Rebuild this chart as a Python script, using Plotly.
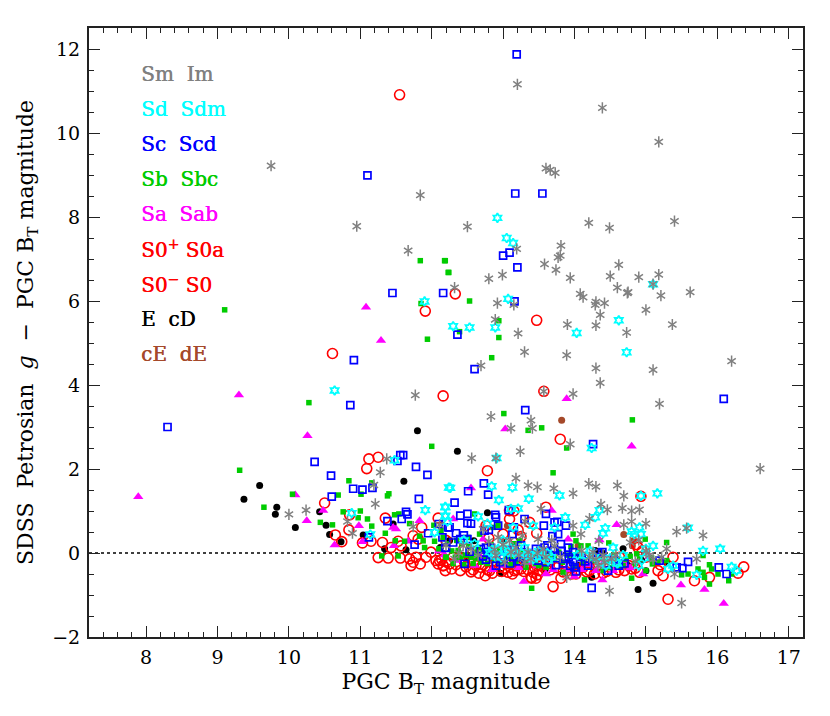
import plotly.graph_objects as go

# type groups: x = PGC BT, y = g - BT
cE_x = [13.82, 14.69, 14.05, 13.06, 14.81, 14.82]
cE_y = [3.16, 0.44, 0.17, 0.65, 0.17, 0.29]

E_x = [9.37, 9.59, 9.83, 9.81, 10.09, 10.43, 10.52, 10.57, 10.73, 11.80, 11.61, 11.04, 11.46, 11.34, 11.64, 12.12,
       12.36, 12.78, 12.59, 14.89, 15.10, 14.68, 14.94, 15.00, 14.39, 14.29, 12.96, 13.59, 14.24, 15.29,
       12.25, 12.50, 13.00, 14.05, 14.75]
E_y = [1.28, 1.61, 1.09, 0.92, 0.61, 0.98, 0.66, 0.44, 0.27, 2.91, 1.71, 0.43, 0.69, 0.10, 0.08, 0.13,
       2.42, 0.96, 0.29, -0.87, -0.72, 0.10, -0.17, -0.42, 0.00, 0.06, -0.48, -0.38, -0.58, -0.22,
       0.30, -0.10, 0.30, -0.30, -0.30]

S0_x = [11.55, 11.91, 12.33, 13.47, 10.61, 12.16, 13.57, 13.80, 12.78, 14.93, 11.12, 11.25, 11.09, 10.50, 10.85,
        10.84, 10.65, 10.74, 11.03, 11.15, 11.35, 11.31, 11.53, 11.57, 11.25, 11.39, 11.43, 11.56, 11.74, 11.81,
        11.86, 11.69, 11.74, 11.71, 11.84, 11.92, 11.99, 12.06, 12.09, 12.16, 12.19, 11.78, 12.09, 12.11, 12.16,
        12.55, 12.69, 12.75, 12.81, 12.62, 13.07, 13.16, 13.25, 13.39, 13.46, 13.51, 13.70, 13.81, 13.37, 13.47,
        13.25, 13.09, 13.09, 12.76, 13.60, 15.31, 15.38, 15.17, 15.24, 15.68, 15.89, 16.29, 16.37, 14.91, 14.89,
        14.63, 14.58, 14.30, 12.30, 12.86, 12.95, 13.04, 13.18, 13.32, 13.44, 13.56, 13.95, 14.12, 14.21, 14.49,
        14.70, 12.25, 12.46, 13.66, 13.88, 14.02, 14.40, 14.80, 15.20]
S0_y = [10.91, 5.76, 6.17, 5.54, 4.75, 3.74, 3.85, 2.71, 1.96, 1.35, 2.24, 2.28, 2.01, 1.19, 0.91,
        0.55, 0.43, 0.27, 0.24, 0.28, 0.83, 0.25, 0.28, 0.17, -0.11, -0.12, 0.13, -0.12, 0.41, 0.33,
        0.61, -0.14, -0.22, -0.30, -0.26, -0.10, 0.02, -0.18, -0.26, -0.30, -0.42, -0.10, 0.83, -0.18, -0.30,
        -0.45, -0.34, -0.54, -0.42, -0.30, -0.46, -0.42, -0.38, -0.58, -0.60, -0.42, -0.80, -0.60, 0.73, 0.47,
        0.39, 1.01, 0.81, 0.65, 1.09, -1.10, -0.10, -0.42, -0.54, -0.66, -0.58, -0.48, -0.33, -0.46, 0.13,
        -0.10, -0.46, -0.34, -0.10, -0.26, -0.34, -0.26, -0.30, -0.26, -0.34, -0.26, -0.34, -0.34, -0.42, -0.34,
        -0.42, -0.26, -0.22, -0.40, -0.44, -0.50, -0.48, -0.38, -0.28]
# the dense band under the zero line
S0_x += [12.14, 12.21, 12.28, 12.34, 12.40, 12.48, 12.52, 12.58, 12.66, 12.72, 12.78, 12.85, 12.90, 12.98, 13.02,
         13.10, 13.13, 13.20, 13.23, 13.29, 13.35, 13.42, 13.40, 13.48, 13.53, 13.60, 13.65, 13.75, 13.84, 13.90,
         13.96, 14.05, 14.10, 14.17, 14.28, 14.34, 14.45, 14.55, 14.62, 14.76, 14.85, 13.00, 13.21, 12.80, 13.15,
         13.05, 12.45, 12.20, 14.95, 14.87, 15.00]
S0_y += [-0.15, -0.22, -0.38, -0.28, -0.42, -0.33, -0.20, -0.40, -0.48, -0.28, -0.40, -0.48, -0.20, -0.44, -0.36,
         -0.34, -0.50, -0.40, -0.25, -0.44, -0.40, -0.46, -0.60, -0.52, -0.30, -0.38, -0.25, -0.35, -0.45, -0.30,
         -0.50, -0.40, -0.20, -0.45, -0.50, -0.28, -0.44, -0.30, -0.40, -0.30, -0.36, 0.45, 0.55, 0.35, 1.00,
         0.25, 0.10, 0.30, 0.05, 0.20, -0.10]

Sa_x = [11.08, 11.29, 7.89, 9.30, 10.26, 10.09, 10.25, 10.48, 10.64, 10.98, 11.03, 11.46, 11.50, 11.83, 11.67,
        11.47, 12.10, 13.89, 13.03, 14.80, 12.55, 13.68, 14.59, 14.35, 15.49, 15.82, 16.09, 13.29, 13.60, 14.00,
        14.39, 14.96, 15.05, 12.72, 12.30, 13.91, 14.70, 14.54, 14.30, 12.69, 13.35,
        12.18, 12.35, 12.60, 12.85, 13.00, 13.22, 13.48, 13.70, 13.88, 14.10, 14.20, 14.38, 14.64, 14.78, 14.88]
Sa_y = [5.85, 5.06, 1.34, 3.76, 2.79, 1.38, 0.77, 1.01, 0.19, 0.65, 0.27, 0.61, 0.57, 0.77, 0.28,
        0.17, 0.05, 3.67, 2.95, 2.54, 1.55, 1.01, 0.67, 0.31, -0.76, -0.87, -1.20, -0.68, -0.50, -0.56,
        -0.64, -0.50, -0.09, 0.33, 0.81, 0.33, -0.26, -0.42, -0.42, -0.10, -0.22,
        -0.05, -0.18, -0.30, -0.40, -0.30, -0.35, -0.30, -0.40, -0.40, -0.40, -0.28, -0.30, -0.34, -0.36, -0.22]

Sb_x = [12.18, 12.24, 12.53, 12.94, 12.39, 12.94, 12.84, 9.10, 11.84, 12.19, 12.23, 11.94, 11.85, 10.28, 9.31,
        9.65, 10.05, 12.00, 10.84, 11.16, 11.01, 10.69, 11.38, 11.40, 10.76, 11.00, 10.97, 11.10, 11.16, 10.44,
        10.61, 11.35, 11.48, 11.54, 11.69, 11.49, 11.62, 11.30, 11.53, 11.83, 11.88, 11.90, 12.03, 12.13, 12.04,
        12.20, 13.01, 14.81, 13.54, 13.35, 13.89, 13.70, 12.93, 12.60, 12.20, 12.30, 12.37, 12.51, 12.55, 12.65,
        12.67, 12.86, 12.97, 13.02, 13.18, 13.23, 13.40, 13.60, 13.72, 13.84, 13.98, 14.02, 14.09, 14.19, 14.14,
        14.07, 14.48, 13.98, 14.80, 14.99, 15.29, 15.09, 14.87, 14.91, 15.00, 15.29, 15.50, 15.59, 15.73, 15.80,
        15.82, 15.80, 15.89, 15.92, 15.89, 16.01, 16.16, 16.20, 15.17, 14.63, 14.40, 12.16, 12.81, 12.69, 12.41,
        13.32, 13.46]
Sb_y = [6.96, 6.68, 6.00, 5.53, 5.27, 5.13, 4.65, 5.79, 6.96, 6.96, 6.68, 5.09, 5.94, 3.58, 1.97,
        1.09, 1.40, 2.54, 1.72, 1.67, 1.40, 1.38, 1.36, 1.41, 0.98, 1.00, 0.84, 0.81, 0.64, 0.73,
        0.67, 0.47, 0.91, 0.93, 0.70, 0.29, 0.28, -0.07, -0.07, 0.40, 0.29, 0.13, 0.66, 0.53, 0.28,
        -0.10, 3.32, 3.17, 2.98, 2.92, 2.50, 1.91, 0.65, 0.93, -0.10, -0.25, 0.06, 0.37, -0.10, 0.13,
        0.45, 0.61, -0.22, 0.13, -0.22, 0.29, -0.84, -0.34, -0.14, -0.46, 0.45, 0.29, 0.17, 0.17, -0.64,
        -0.10, 0.24, -0.06, -0.60, 0.33, 0.25, -0.26, -0.02, -0.14, -0.42, -0.18, -0.52, -0.50, -0.38, -0.46,
        -0.58, -0.06, -0.28, -0.38, -0.74, -0.50, -0.66, -0.50, -0.22, -0.34, -0.42, 0.37, -0.02, -0.22, -0.10,
        -0.34, -0.10]
Sb_x += [12.22, 12.28, 12.33, 12.42, 12.47, 12.52, 12.58, 12.63, 12.72, 12.76, 12.83, 12.88, 12.95, 13.05, 13.10,
         13.15, 13.22, 13.28, 13.38, 13.45, 13.52, 13.58, 13.66, 13.78, 13.83, 13.90, 14.00, 14.05, 14.12, 14.26,
         14.35, 14.45, 14.55, 14.60, 14.72, 14.78, 14.85, 15.08, 12.10, 12.35, 12.45, 12.62, 12.78, 13.12, 13.32,
         13.50, 13.95, 14.22, 14.50, 14.68]
Sb_y += [0.22, 0.05, -0.10, 0.22, -0.05, 0.15, -0.25, 0.02, 0.05, -0.08, 0.20, -0.18, 0.05, -0.08, -0.28,
         0.22, -0.08, 0.05, -0.10, -0.25, 0.02, -0.15, -0.05, 0.02, -0.22, -0.05, -0.30, 0.02, -0.22, -0.18,
         -0.08, -0.20, -0.05, -0.18, -0.15, -0.08, -0.25, -0.12, 0.10, 0.30, -0.28, -0.12, -0.25, -0.12, -0.18,
         -0.30, 0.15, -0.10, -0.35, -0.30]

Sc_x = [13.19, 13.17, 13.55, 13.09, 13.00, 13.20, 12.16, 13.16, 12.36, 12.60, 11.10, 11.45, 10.91, 8.30, 10.86,
        10.36, 10.59, 10.60, 10.90, 11.03, 11.17, 11.56, 11.60, 11.52, 11.78, 11.94, 11.82, 11.64, 11.66, 11.58,
        11.38, 11.12, 11.76, 11.95, 12.10, 12.15, 12.20, 12.23, 16.09, 14.26, 13.31, 12.51, 12.73, 12.79, 12.32,
        12.40, 12.50, 12.25, 12.34, 12.40, 12.50, 12.50, 12.89, 12.90, 12.93, 13.08, 13.13, 13.15, 13.30, 13.60,
        13.57, 13.72, 13.76, 13.88, 13.69, 13.77, 12.80, 12.74, 12.19, 12.53, 12.69, 12.76, 12.79, 12.76, 12.46,
        12.90, 13.27, 13.16, 13.58, 13.60, 13.74, 13.86, 13.77, 13.91, 13.81, 13.98, 14.00, 14.02, 14.19, 14.39,
        14.47, 14.70, 14.24, 15.19, 15.43, 15.51, 15.59, 16.02, 16.13, 13.14, 13.49,
        12.85, 12.96, 13.05, 13.22, 13.35, 13.42, 13.52, 13.66, 13.70, 13.82, 13.92, 13.94, 14.10, 14.30, 14.33,
        14.55, 14.62, 12.30, 12.45, 12.55, 12.72, 12.83, 13.00, 13.10, 13.25, 13.46, 13.62, 13.84, 13.98, 14.15]
Sc_y = [11.87, 8.56, 8.56, 7.15, 7.08, 6.80, 6.19, 5.99, 5.20, 4.38, 8.99, 6.19, 4.59, 3.00, 3.52,
        2.17, 1.84, 1.34, 1.53, 1.51, 1.55, 2.33, 2.33, 2.19, 2.05, 1.86, 1.29, 0.98, 0.92, 0.81,
        0.76, 0.37, 0.20, 0.47, 0.69, 0.37, 0.12, 0.61, 3.67, 2.59, 3.40, 1.47, 1.66, 1.39, 1.20,
        0.89, 0.93, 0.61, 0.47, 0.33, 0.33, 0.71, 0.91, 0.85, 0.65, 1.02, 0.45, 0.61, 0.81, 0.93,
        0.65, 0.73, 0.74, 0.65, 0.40, 0.45, 0.55, 0.53, 0.13, 0.03, 0.09, 0.13, 0.02, -0.16, -0.26,
        -0.30, -0.10, 0.09, 0.13, -0.22, -0.29, -0.14, -0.06, 0.13, 0.21, -0.22, -0.34, -0.44, -0.30, 0.02,
        -0.42, -0.25, -0.83, -0.18, -0.34, -0.36, -0.21, -0.34, -0.50, -0.10, -0.18,
        -0.05, -0.22, 0.08, -0.20, 0.00, -0.05, 0.05, -0.05, 0.05, 0.05, -0.10, -0.30, -0.10, -0.10, 0.00,
        -0.15, -0.30, 0.25, 0.42, 0.70, -0.08, 0.12, -0.12, -0.25, 0.18, 0.10, 0.18, -0.25, 0.02, -0.20]

Sd_x = [12.92, 13.05, 13.14, 15.10, 13.07, 12.30, 12.53, 12.89, 14.62, 14.03, 14.73, 11.90, 10.64, 11.48, 10.88,
        11.14, 11.91, 12.24, 12.19, 12.19, 12.04, 14.24, 12.91, 12.26, 12.84, 13.13, 12.94, 13.36, 13.79, 14.93,
        15.16, 12.19, 13.11, 13.21, 12.65, 13.87, 14.15, 14.29, 14.35, 14.43, 14.40, 14.80, 14.91, 14.84, 14.93,
        15.10, 15.59, 15.80, 16.04, 16.20, 16.27, 15.71, 15.31, 14.90, 14.58, 14.44, 14.16, 14.54, 13.44, 13.63,
        13.30, 13.18, 13.07, 12.93, 12.81, 13.14, 13.42, 13.72, 13.56, 12.97, 12.19, 13.32,
        12.85, 12.89, 13.02, 13.10, 13.16, 13.25, 13.37, 13.42, 13.50, 13.62, 13.68, 14.04, 14.22, 14.28, 14.36,
        14.50, 14.60, 14.68, 14.98, 15.00, 15.38, 12.22, 12.45, 12.60, 12.78, 13.00]
Sd_y = [7.98, 7.50, 7.38, 6.40, 6.05, 5.40, 5.37, 5.37, 5.54, 5.24, 4.78, 5.99, 3.87, 2.21, 0.95,
        0.44, 1.02, 1.56, 1.09, 0.87, 0.49, 2.50, 2.26, 1.55, 1.59, 1.56, 1.26, 1.29, 1.37, 1.36,
        1.42, 1.10, 1.05, 1.06, 0.87, 0.85, 0.67, 0.85, 1.02, 0.59, 0.47, 0.51, 0.61, 0.45, 0.45,
        0.17, 0.60, 0.05, 0.10, -0.33, -0.42, -0.52, -0.38, -0.30, -0.22, -0.30, -0.06, 0.13, -0.09, -0.18,
        0.13, 0.02, 0.02, 0.10, 0.02, 0.61, 0.65, 0.61, -0.10, -0.10, 0.89, -0.06,
        0.08, -0.08, 0.05, 0.12, -0.02, 0.02, -0.02, -0.15, 0.05, 0.00, -0.10, -0.05, 0.05, -0.10, -0.22,
        -0.12, -0.25, -0.05, -0.12, 0.10, -0.30, 0.75, 0.30, 0.22, 0.70, 0.30]

Sm_x = [13.20, 14.39, 15.18, 13.60, 13.66, 13.73, 12.50, 14.20, 14.49, 15.40, 13.19, 13.81, 13.80, 13.77, 13.58,
        13.74, 13.94, 12.99, 12.80, 14.62, 14.50, 14.90, 15.18, 15.10, 14.60, 14.75, 14.74, 15.21, 15.62, 14.08,
        14.12, 14.30, 14.29, 14.42, 12.92, 13.15, 12.32, 15.00, 14.36, 12.89, 13.90, 14.30, 15.37, 13.21, 14.73,
        13.30, 13.89, 12.69, 14.30, 15.10, 16.20, 9.75, 11.84, 10.95, 11.67, 14.36, 13.98, 15.19, 13.57, 12.83,
        13.39, 13.11, 13.41, 13.94, 13.24, 12.56, 12.90, 16.60, 13.18, 13.35, 13.48, 13.71, 13.98, 14.20, 14.30,
        14.60, 14.69, 14.37, 14.46, 14.67, 14.80, 14.91, 13.53, 14.21, 14.80, 15.00, 14.69, 13.98, 14.09, 15.43,
        15.57, 15.80, 14.34, 14.78, 14.90, 13.31, 12.72, 13.49, 12.93, 13.09, 13.27, 12.32, 12.44, 12.90, 13.11,
        13.35, 13.56, 13.72, 13.02, 13.39, 14.26, 14.21, 14.33, 14.52, 14.49, 15.50, 13.89, 15.71, 15.40, 15.29,
        15.22, 11.77, 11.37, 11.28, 11.19, 11.21, 10.00, 10.24, 10.82, 10.89, 11.74, 12.11,
        12.20, 12.38, 12.55, 12.65, 12.80, 12.88, 13.00, 13.18, 13.22, 13.30, 13.48, 13.60, 13.68, 13.80, 14.10,
        14.30, 14.40, 14.42, 14.58, 14.85, 15.00, 15.10, 15.05]
Sm_y = [11.16, 10.60, 9.79, 9.16, 9.12, 9.05, 7.77, 7.86, 7.74, 7.90, 7.24, 7.32, 7.08, 7.04, 6.88,
        6.74, 6.55, 6.62, 6.53, 6.86, 6.59, 6.57, 6.63, 6.40, 6.32, 6.21, 6.19, 6.13, 6.21, 6.17,
        6.09, 5.98, 5.91, 5.95, 5.95, 5.91, 6.32, 5.79, 5.67, 5.56, 5.44, 5.42, 5.44, 5.23, 5.25,
        4.79, 4.71, 4.46, 4.40, 4.36, 4.57, 9.22, 8.52, 7.78, 7.20, 4.05, 3.79, 3.55, 3.85, 3.25,
        3.16, 2.97, 2.97, 2.59, 2.42, 2.26, 2.26, 2.01, 1.78, 1.61, 1.57, 1.54, 1.42, 1.65, 1.58,
        1.61, 1.36, 1.16, 1.03, 1.07, 1.00, 1.03, 1.05, 0.82, 0.75, 0.70, 0.67, 0.65, 0.45, 0.51,
        0.59, 0.42, 0.29, 0.25, 0.31, 0.75, 0.57, 0.33, 0.37, 0.29, 0.41, -0.14, 0.17, -0.06, 0.02,
        0.02, 0.09, 0.17, -0.22, -0.14, 0.02, -0.10, -0.30, -0.14, -0.90, -1.19, -0.58, -0.14, -0.50, 0.10,
        -0.10, 3.76, 2.24, 1.92, 1.62, 1.17, 0.92, 1.02, 0.75, 0.47, 0.63, 0.67,
        0.18, 0.00, 0.10, -0.05, 0.28, 0.08, 0.20, 0.12, -0.05, -0.22, 0.00, -0.10, 0.30, -0.10, 0.05,
        -0.15, -0.05, -0.22, -0.05, -0.20, 0.05, -0.15, -0.05]

legend_labels = ["Sm\u00a0\u00a0Im", "Sd\u00a0\u00a0Sdm", "Sc\u00a0\u00a0Scd", "Sb\u00a0\u00a0Sbc", "Sa\u00a0\u00a0Sab",
                 "S0<sup>+</sup>\u00a0S0a", "S0<sup>\u2212</sup>\u00a0S0", "E\u00a0\u00a0cD", "cE\u00a0\u00a0dE"]
legend_colors = ["#808080", "#00ffff", "#0000ff", "#00cc00", "#ff00ff", "#ff0000", "#ff0000", "#000000", "#a5492a"]

serif = "DejaVu Serif"
fig = go.Figure()


def add(x, y, symbol, color, size, width=0):
    fig.add_trace(go.Scatter(x=x, y=y, mode="markers", showlegend=False,
                             marker=dict(symbol=symbol, color=color, size=size, line=dict(color=color, width=width))))


add(cE_x, cE_y, "circle", "#a5492a", 7)
add(E_x, E_y, "circle", "#000000", 7)
add(S0_x, S0_y, "circle-open", "#ff0000", 10, 1.6)
add(Sa_x, Sa_y, "triangle-up", "#ff00ff", 9)
add(Sb_x, Sb_y, "square", "#00cc00", 5.5)
add(Sc_x, Sc_y, "square-open", "#0000ff", 7, 1.7)
add(Sd_x, Sd_y, "hexagram-open", "#00ffff", 7, 1.8)
# no six armed asterisk in plotly, y-up + y-down gives one
add(Sm_x, Sm_y, "y-up-open", "#808080", 7, 1.5)
add(Sm_x, Sm_y, "y-down-open", "#808080", 7, 1.5)

fig.add_hline(y=0, line=dict(color="black", width=1.5, dash="dot"), layer="below")

for i, label in enumerate(legend_labels):
    fig.add_annotation(text=label, xref="paper", yref="paper", x=0.07, y=0.924 - i * 0.0575, showarrow=False,
                       xanchor="left", yanchor="middle",
                       font=dict(family=serif, size=20, color=legend_colors[i], shadow="0.5px 0 0 " + legend_colors[i]))

axis = dict(showgrid=False, zeroline=False, showline=True, linecolor="#222222", linewidth=2, mirror="allticks",
            ticks="inside", ticklen=11, tickwidth=1.3, tickcolor="#222222", tickfont=dict(family=serif, size=19, color="black"))
fig.update_xaxes(range=[7.2, 17.2], dtick=1, tick0=8, ticklabelstandoff=2,
                 minor=dict(dtick=0.2, ticks="inside", ticklen=5, tickwidth=1.2, tickcolor="#222222"),
                 title=dict(text="PGC B<sub>T</sub> magnitude", font=dict(family=serif, size=22, color="black"), standoff=7), **axis)
fig.update_yaxes(range=[-2, 12.5], dtick=2, tick0=0, ticklabelstandoff=3,
                 minor=dict(dtick=0.5, ticks="inside", ticklen=5, tickwidth=1.2, tickcolor="#222222"),
                 title=dict(text="SDSS\u00a0\u00a0Petrosian\u00a0\u00a0<i>g</i>\u00a0\u00a0\u2212\u00a0\u00a0PGC B<sub>T</sub> magnitude",
                            font=dict(family=serif, size=22, color="black"), standoff=12), **axis)
# page body keeps its 8px margin, so the figure is 8px short each way
fig.update_layout(width=822, height=708, margin=dict(l=81, r=27, t=20, b=79), plot_bgcolor="white", paper_bgcolor="white")
fig.write_html("out.html")
